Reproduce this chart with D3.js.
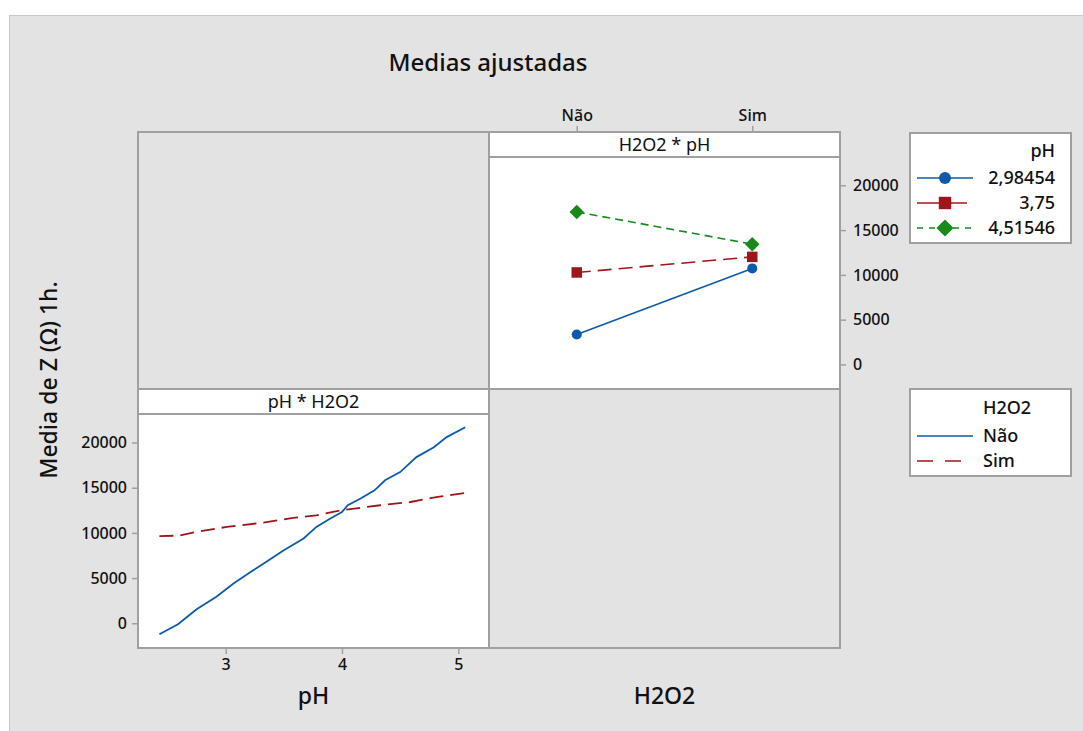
<!DOCTYPE html>
<html>
<head>
<meta charset="utf-8">
<script src="https://cdn.jsdelivr.net/npm/d3@7"></script>
<style>
  html, body { margin: 0; padding: 0; background: #ffffff; }
  svg { display: block; font-family: "Noto Sans", "Open Sans", sans-serif; }
</style>
</head>
<body>
<svg id="chart" width="1083" height="731"></svg>
<script>
// ---- Data -------------------------------------------------------------
const h2o2Levels = ["Não", "Sim"];
const phLevels = ["2,98454", "3,75", "4,51546"];

// Fitted means of Z for each pH level across the H2O2 levels
const meansPhLow  = [3350, 10720];
const meansPhMid  = [10270, 12010];
const meansPhHigh = [17030, 13430];

// Fitted means of Z along pH for each H2O2 level
const phNao = [2.43, 2.59, 2.75, 2.92, 3.07, 3.24, 3.35, 3.50, 3.67, 3.78, 3.90, 4.00, 4.05, 4.16, 4.28, 4.37, 4.50, 4.64, 4.79, 4.90, 5.06];
const zNao  = [-1210, -110, 1545, 2940, 4415, 5880, 6800, 8090, 9380, 10660, 11590, 12320, 13060, 13800, 14710, 15820, 16730, 18390, 19490, 20600, 21700];
const phSim = [2.43, 2.60, 2.78, 3.01, 3.30, 3.58, 3.78, 3.99, 4.33, 4.59, 4.81, 5.06];
const zSim  = [9640, 9700, 10190, 10660, 11100, 11660, 11950, 12500, 13060, 13420, 13970, 14420];

const yTicks = [0, 5000, 10000, 15000, 20000];
const phTicks = [3, 4, 5];

// ---- Styles -----------------------------------------------------------
const blue = "#0c5bab", red = "#9e1619", green = "#178a1a";
const frameColor = "#a0a0a0";
const bg = "#e3e3e3";
const textColor = "#111111";

const svg = d3.select("#chart");

// Outer background
svg.append("rect").attr("x", 9.5).attr("y", 15.5).attr("width", 1083).attr("height", 731)
  .attr("fill", bg).attr("stroke", "#c8c8c8").attr("stroke-width", 1);

// Matrix layout
const L = 138, M = 489, R = 840, T = 132, H = 389, B = 648;
const stripH = 25;

// Title
svg.append("text").attr("x", 488).attr("y", 71).attr("text-anchor", "middle")
  .attr("font-size", 24).attr("font-weight", 500).attr("fill", textColor).text("Medias ajustadas");

// Panels
svg.append("rect").attr("x", L).attr("y", T).attr("width", M - L).attr("height", H - T).attr("fill", bg);
svg.append("rect").attr("x", M).attr("y", H).attr("width", R - M).attr("height", B - H).attr("fill", bg);
// top-right panel (H2O2 * pH)
svg.append("rect").attr("x", M).attr("y", T).attr("width", R - M).attr("height", H - T).attr("fill", "#fff");
// bottom-left panel (pH * H2O2)
svg.append("rect").attr("x", L).attr("y", H).attr("width", M - L).attr("height", B - H).attr("fill", "#fff");

// Strip lines and frame
const frame = svg.append("g").attr("stroke", frameColor).attr("stroke-width", 2).attr("fill", "none");
frame.append("line").attr("x1", M).attr("x2", R).attr("y1", T + stripH).attr("y2", T + stripH);
frame.append("line").attr("x1", L).attr("x2", M).attr("y1", H + stripH).attr("y2", H + stripH);
frame.append("rect").attr("x", L).attr("y", T).attr("width", R - L).attr("height", B - T);
frame.append("line").attr("x1", M).attr("x2", M).attr("y1", T).attr("y2", B);
frame.append("line").attr("x1", L).attr("x2", R).attr("y1", H).attr("y2", H);

// Strip labels
svg.append("text").attr("x", (M + R) / 2).attr("y", T + 19).attr("text-anchor", "middle")
  .attr("font-size", 18).attr("fill", textColor).text("H2O2 * pH");
svg.append("text").attr("x", (L + M) / 2).attr("y", H + 19).attr("text-anchor", "middle")
  .attr("font-size", 18).attr("fill", textColor).text("pH * H2O2");

// ---- Scales -----------------------------------------------------------
const yDomain = [-2740, 23160];
const yTop = d3.scaleLinear().domain(yDomain).range([H, T + stripH]);
const yBot = d3.scaleLinear().domain(yDomain).range([B, H + stripH]);
const xCat = d3.scalePoint().domain(h2o2Levels).range([M, R]).padding(0.5);
const xPh = d3.scaleLinear().domain([2.246, 5.264]).range([L, M]);

function styleAxis(g) {
  g.select(".domain").remove();
  g.selectAll(".tick line").attr("stroke", frameColor).attr("stroke-width", 1.5);
  g.selectAll(".tick text").attr("fill", textColor).attr("font-size", 16).attr("font-weight", 500)
    .attr("font-family", "Noto Sans, sans-serif");
}

// Right axis of top-right panel
svg.append("g").attr("transform", `translate(${R},0)`)
  .call(d3.axisRight(yTop).tickValues(yTicks).tickFormat(d3.format("d")).tickSize(6).tickPadding(7))
  .call(styleAxis);

// Top categorical axis
svg.append("g").attr("transform", `translate(0,${T})`)
  .call(d3.axisTop(xCat).tickSize(6).tickPadding(5))
  .call(styleAxis);

// Left axis of bottom-left panel
svg.append("g").attr("transform", `translate(${L},0)`)
  .call(d3.axisLeft(yBot).tickValues(yTicks).tickFormat(d3.format("d")).tickSize(6).tickPadding(5))
  .call(styleAxis);

// Bottom pH axis
svg.append("g").attr("transform", `translate(0,${B})`)
  .call(d3.axisBottom(xPh).tickValues(phTicks).tickFormat(d3.format("d")).tickSize(6).tickPadding(5))
  .call(styleAxis);

// Axis titles
svg.append("text").attr("x", (L + M) / 2).attr("y", 704).attr("text-anchor", "middle")
  .attr("font-size", 23).attr("font-weight", 500).attr("fill", textColor).text("pH");
svg.append("text").attr("x", (M + R) / 2).attr("y", 704).attr("text-anchor", "middle")
  .attr("font-size", 23).attr("font-weight", 500).attr("fill", textColor).text("H2O2");
svg.append("text").attr("transform", "translate(57,380) rotate(-90)").attr("text-anchor", "middle")
  .attr("font-size", 23).attr("font-weight", 500).attr("fill", textColor).text("Media de Z (Ω) 1h.");

// ---- Top-right: means by H2O2 for each pH level ----------------------
const series = [
  { values: meansPhLow,  color: blue,  dash: null,   shape: d3.symbolCircle, size: 80,  rot: 0 },
  { values: meansPhMid,  color: red,   dash: "14,7", shape: d3.symbolSquare, size: 110, rot: 0 },
  { values: meansPhHigh, color: green, dash: "8,5",  shape: d3.symbolSquare, size: 105, rot: 45 }
];
const lineCat = d3.line().x((d, i) => xCat(h2o2Levels[i])).y(d => yTop(d));
series.forEach(s => {
  svg.append("path").attr("d", lineCat(s.values)).attr("fill", "none")
    .attr("stroke", s.color).attr("stroke-width", 1.6)
    .attr("stroke-dasharray", s.dash);
  svg.selectAll(null).data(s.values).join("path")
    .attr("transform", (d, i) => `translate(${xCat(h2o2Levels[i])},${yTop(d)}) rotate(${s.rot})`)
    .attr("d", d3.symbol().type(s.shape).size(s.size))
    .attr("fill", s.color);
});

// ---- Bottom-left: means along pH for each H2O2 level -----------------
const linePh = d3.line().x(d => xPh(d[0])).y(d => yBot(d[1]));
svg.append("path").attr("d", linePh(d3.zip(phNao, zNao))).attr("fill", "none")
  .attr("stroke", blue).attr("stroke-width", 1.8);
svg.append("path").attr("d", linePh(d3.zip(phSim, zSim))).attr("fill", "none")
  .attr("stroke", red).attr("stroke-width", 1.8).attr("stroke-dasharray", "14,7");

// ---- Legend: pH ---------------------------------------------------------
const lg1 = svg.append("g");
lg1.append("rect").attr("x", 910).attr("y", 133).attr("width", 161).attr("height", 110)
  .attr("fill", "#fff").attr("stroke", frameColor).attr("stroke-width", 2);
lg1.append("text").attr("x", 1055).attr("y", 157).attr("text-anchor", "end")
  .attr("font-size", 18).attr("font-weight", 500).attr("fill", textColor).text("pH");
const legendLen = [56, 50, 56];
series.forEach((s, i) => {
  const y = 178 + i * 25;
  lg1.append("line").attr("x1", 917).attr("x2", 917 + legendLen[i]).attr("y1", y).attr("y2", y)
    .attr("stroke", s.color).attr("stroke-width", 1.6)
    .attr("stroke-dasharray", i === 2 ? "6,6" : null);
  lg1.append("path").attr("transform", `translate(945,${y}) rotate(${s.rot})`)
    .attr("d", d3.symbol().type(s.shape).size(s.size * 1.4)).attr("fill", s.color);
  lg1.append("text").attr("x", 1055).attr("y", y + 6).attr("text-anchor", "end")
    .attr("font-size", 18).attr("font-weight", 500).attr("fill", textColor).text(phLevels[i]);
});

// ---- Legend: H2O2 -------------------------------------------------------
const lg2 = svg.append("g");
lg2.append("rect").attr("x", 910).attr("y", 389).attr("width", 161).attr("height", 87)
  .attr("fill", "#fff").attr("stroke", frameColor).attr("stroke-width", 2);
lg2.append("text").attr("x", 983).attr("y", 414).attr("font-size", 18).attr("font-weight", 500)
  .attr("fill", textColor).text("H2O2");
const h2o2Styles = [{ color: blue, dash: null }, { color: red, dash: "16,12" }];
h2o2Levels.forEach((lvl, i) => {
  const y = 436 + i * 25;
  lg2.append("line").attr("x1", 917).attr("x2", 973).attr("y1", y).attr("y2", y)
    .attr("stroke", h2o2Styles[i].color).attr("stroke-width", 1.6)
    .attr("stroke-dasharray", h2o2Styles[i].dash);
  lg2.append("text").attr("x", 983).attr("y", y + 6).attr("font-size", 18).attr("font-weight", 500)
    .attr("fill", textColor).text(lvl);
});
</script>
</body>
</html>
